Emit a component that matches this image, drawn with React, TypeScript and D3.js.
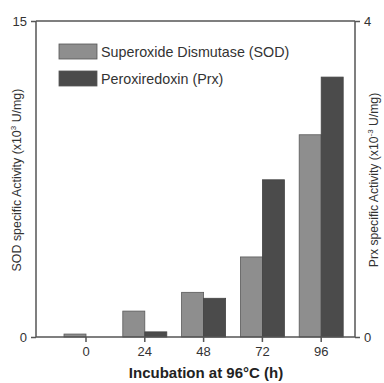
import React, { useEffect, useRef } from 'react'
import * as d3 from 'd3'

// Incubation time categories (h)
const hours = ['0', '24', '48', '72', '96']
// SOD specific activity (x10^3 U/mg)
const sodValues = [0.14, 1.23, 2.12, 3.8, 9.6]
// Prx specific activity (x10^-3 U/mg)
const prxValues = [0, 0.065, 0.49, 1.99, 3.29]

const seriesNames = ['Superoxide Dismutase (SOD)', 'Peroxiredoxin (Prx)']
const sodTicks = [0, 15]
const prxTicks = [0, 4]

const App: React.FC = () => {
  const ref = useRef<SVGSVGElement | null>(null)

  useEffect(() => {
    if (!ref.current) return
    const svg = d3.select(ref.current)
    svg.selectAll('*').remove()

    const left = 36
    const right = 355
    const top = 21
    const bottom = 337
    const font = 'Liberation Sans, Arial, sans-serif'
    const axisColor = '#555'
    const textColor = '#333'
    const sodFill = '#8e8e8e'
    const prxFill = '#4b4b4b'
    const barW = 22

    const x = d3.scaleBand<string>().domain(hours).range([56.6, 350.6]).padding(0)
    const ySod = d3.scaleLinear().domain([0, 15]).range([bottom, top])
    const yPrx = d3.scaleLinear().domain([0, 4]).range([bottom, top])
    const center = (h: string) => (x(h) ?? 0) + x.bandwidth() / 2

    // bars
    svg.append('g').selectAll('rect')
      .data(hours)
      .enter()
      .append('rect')
      .attr('x', h => center(h) - barW)
      .attr('y', (h, i) => ySod(sodValues[i]))
      .attr('width', barW)
      .attr('height', (h, i) => bottom - ySod(sodValues[i]))
      .attr('fill', sodFill)
      .attr('stroke', '#5a5a5a')
      .attr('stroke-width', 0.8)

    svg.append('g').selectAll('rect')
      .data(hours)
      .enter()
      .filter((h, i) => prxValues[i] > 0)
      .append('rect')
      .attr('x', h => center(h))
      .attr('y', h => yPrx(prxValues[hours.indexOf(h)]))
      .attr('width', barW)
      .attr('height', h => bottom - yPrx(prxValues[hours.indexOf(h)]))
      .attr('fill', prxFill)
      .attr('stroke', '#444')
      .attr('stroke-width', 0.8)

    // frame
    const frame = svg.append('g').attr('stroke', axisColor).attr('stroke-width', 1.5).attr('fill', 'none')
    frame.append('line').attr('x1', left).attr('x2', right).attr('y1', top).attr('y2', top)
    frame.append('line').attr('x1', left).attr('x2', right).attr('y1', bottom).attr('y2', bottom)
    frame.append('line').attr('x1', left).attr('x2', left).attr('y1', top).attr('y2', bottom)
    frame.append('line').attr('x1', right).attr('x2', right).attr('y1', top).attr('y2', bottom)

    // left axis
    const gl = svg.append('g').attr('transform', `translate(${left},0)`)
      .call(d3.axisLeft(ySod).tickValues(sodTicks).tickSize(5).tickSizeOuter(0).tickPadding(4).tickFormat(d3.format('d')))
    // right axis
    const gr = svg.append('g').attr('transform', `translate(${right},0)`)
      .call(d3.axisRight(yPrx).tickValues(prxTicks).tickSize(5).tickSizeOuter(0).tickPadding(4).tickFormat(d3.format('d')))
    // bottom axis
    const gb = svg.append('g').attr('transform', `translate(0,${bottom})`)
      .call(d3.axisBottom(x).tickSize(5).tickSizeOuter(0).tickPadding(5))

    for (const g of [gl, gr, gb]) {
      g.select('.domain').remove()
      g.selectAll('line').attr('stroke', axisColor).attr('stroke-width', 1.5)
      g.selectAll('text').attr('fill', textColor).style('font-family', font).style('font-size', '13px')
    }

    // axis titles
    const lt = svg.append('text')
      .attr('transform', `translate(21,180) rotate(-90)`)
      .attr('text-anchor', 'middle')
      .attr('fill', textColor)
      .style('font-family', font)
      .style('font-size', '12.4px')
    lt.append('tspan').text('SOD specific Activity (x10')
    lt.append('tspan').attr('dy', -5).style('font-size', '8px').text('3')
    lt.append('tspan').attr('dy', 5).text(' U/mg)')

    const rt = svg.append('text')
      .attr('transform', `translate(378,180) rotate(-90)`)
      .attr('text-anchor', 'middle')
      .attr('fill', textColor)
      .style('font-family', font)
      .style('font-size', '12.2px')
    rt.append('tspan').text('Prx specific Activity (x10')
    rt.append('tspan').attr('dy', -5).style('font-size', '8px').text('-3')
    rt.append('tspan').attr('dy', 5).text(' U/mg)')

    svg.append('text')
      .attr('x', 206)
      .attr('y', 378)
      .attr('text-anchor', 'middle')
      .attr('fill', '#222')
      .style('font-family', font)
      .style('font-size', '15px')
      .style('font-weight', 'bold')
      .text('Incubation at 96°C (h)')

    // legend
    const legend = svg.append('g')
    const fills = [sodFill, prxFill]
    seriesNames.forEach((name, i) => {
      legend.append('rect')
        .attr('x', 59)
        .attr('y', 44 + i * 27)
        .attr('width', 38)
        .attr('height', 15)
        .attr('fill', fills[i])
        .attr('stroke', '#555')
        .attr('stroke-width', 0.8)
      legend.append('text')
        .attr('x', 101)
        .attr('y', 57 + i * 27)
        .attr('fill', textColor)
        .style('font-family', font)
        .style('font-size', '14.3px')
        .text(name)
    })
  }, [])

  return (
    <svg ref={ref} width={384} height={383} style={{ position: 'absolute', left: 0, top: 0, background: '#fff' }} />
  )
}

export default App
